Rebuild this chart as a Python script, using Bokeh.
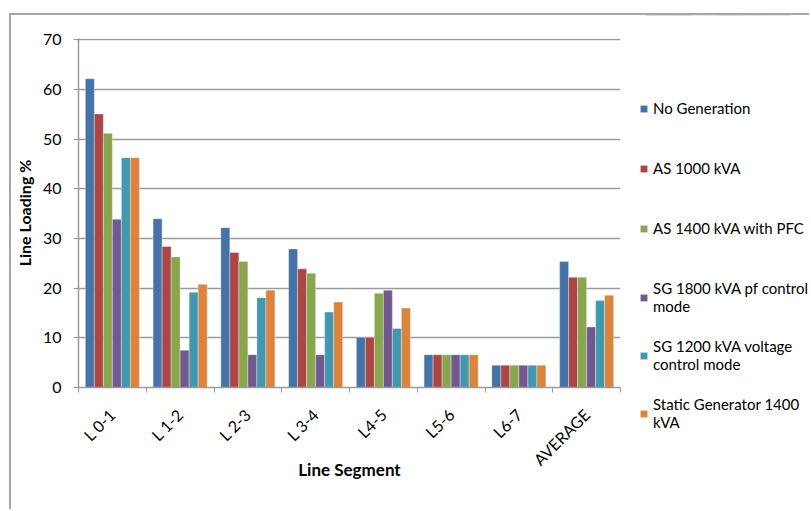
from math import pi
from bokeh.plotting import figure
from bokeh.layouts import row
from bokeh.models import Range1d, FixedTicker, Legend, LegendItem, ColumnDataSource
from bokeh.transform import dodge
from bokeh.embed import file_html
from bokeh.resources import INLINE

segments = ["L 0-1", "L 1-2", "L 2-3", "L 3-4", "L4-5", "L5-6", "L6-7", "AVERAGE"]
series_names = [
    "No Generation",
    "AS 1000 kVA",
    "AS 1400 kVA with PFC",
    "SG 1800 kVA pf control\nmode",
    "SG 1200 kVA voltage\ncontrol mode",
    "Static Generator 1400\nkVA",
]
no_generation = [62.2, 34.0, 32.2, 27.9, 10.1, 6.6, 4.5, 25.4]
as_1000 = [55.1, 28.4, 27.2, 23.9, 10.1, 6.6, 4.5, 22.2]
as_1400_pfc = [51.2, 26.3, 25.4, 23.0, 19.0, 6.6, 4.5, 22.2]
sg_1800_pf = [33.9, 7.5, 6.6, 6.6, 19.6, 6.6, 4.5, 12.2]
sg_1200_voltage = [46.3, 19.2, 18.1, 15.2, 11.9, 6.6, 4.5, 17.5]
static_gen_1400 = [46.3, 20.8, 19.6, 17.2, 16.0, 6.6, 4.5, 18.6]
y_ticks = [0, 10, 20, 30, 40, 50, 60, 70]

colors = ["#4572A7", "#AA4643", "#89A54E", "#71588F", "#4198AF", "#DB843D"]
keys = ["s0", "s1", "s2", "s3", "s4", "s5"]
all_series = [no_generation, as_1000, as_1400_pfc, sg_1800_pf, sg_1200_voltage, static_gen_1400]

centers = [i + 0.5 for i in range(len(segments))]
data = {"x": centers}
for k, s in zip(keys, all_series):
    data[k] = s
source = ColumnDataSource(data)

font = "Lato"
grey = "#9a9a9a"
bw = 0.133

# main chart (canvas origin at page (11, 15) because of the border styles)
H = 494
W1 = 615
FL, FR, FT, FB = 66, 609, 23, 372
p = figure(width=W1, height=H, output_backend="svg", toolbar_location=None,
           x_range=Range1d(0, len(segments)), y_range=Range1d(0, 70.3),
           min_border_left=FL, min_border_right=W1 - FR,
           min_border_top=FT, min_border_bottom=H - FB)

for j, (k, c) in enumerate(zip(keys, colors)):
    off = (j - 2.5) * bw
    p.vbar(x=dodge("x", off, range=p.x_range), top=k, width=bw, source=source,
           fill_color=c, line_color="white", line_alpha=0.35, line_width=1)

p.outline_line_color = None
p.xgrid.visible = False
p.ygrid.grid_line_color = grey
p.ygrid.grid_line_width = 1.5

xa = p.xaxis[0]
xa.ticker = FixedTicker(ticks=centers, minor_ticks=list(range(len(segments) + 1)))
xa.major_label_overrides = {c: s for c, s in zip(centers, segments)}
xa.major_label_orientation = pi / 4
xa.major_tick_out = 0
xa.major_tick_in = 0
xa.minor_tick_out = 5
xa.minor_tick_in = 0
xa.minor_tick_line_color = grey
xa.axis_line_color = grey
xa.axis_line_width = 1.5
xa.major_label_standoff = 19
xa.major_label_text_font = font
xa.major_label_text_font_size = "16px"
xa.major_label_text_color = "black"
xa.axis_label = "Line Segment"
xa.axis_label_text_font = font
xa.axis_label_text_font_style = "bold"
xa.axis_label_text_font_size = "17px"
xa.axis_label_text_color = "black"
xa.axis_label_standoff = -20

ya = p.yaxis[0]
ya.ticker = FixedTicker(ticks=y_ticks, minor_ticks=[])
ya.major_tick_out = 5
ya.major_tick_in = 0
ya.major_tick_line_color = grey
ya.axis_line_color = grey
ya.axis_line_width = 1.5
ya.major_label_standoff = 12
ya.major_label_text_font = font
ya.major_label_text_font_size = "16px"
ya.major_label_text_color = "black"
ya.axis_label = "Line Loading %"
ya.axis_label_text_font = font
ya.axis_label_text_font_style = "bold"
ya.axis_label_text_font_size = "16px"
ya.axis_label_text_color = "black"
ya.axis_label_standoff = 6

# legend panel (its own frame, not aligned with the chart frame)
W2 = 183
q = figure(width=W2, height=H, output_backend="svg", toolbar_location=None,
           x_axis_type=None, y_axis_type=None,
           x_range=Range1d(0, 1), y_range=Range1d(-2, -1),
           min_border_left=0, min_border_right=0, min_border_top=0, min_border_bottom=0)
q.frame_align = False
q.outline_line_color = None
items = []
for j, (k, c, name) in enumerate(zip(keys, colors, series_names)):
    r = q.vbar(x=dodge("x", (j - 2.5) * bw), top=k, width=bw, source=source,
               fill_color=c, line_color="white", line_alpha=0.35, line_width=1)
    items.append(LegendItem(label=name, renderers=[r]))

common = dict(orientation="vertical", glyph_width=9, glyph_height=9, label_standoff=5,
              padding=0, margin=0, label_text_font=font, label_text_font_size="15px",
              label_text_color="black", label_text_line_height=1.3,
              border_line_alpha=0, background_fill_alpha=0)
legend_a = Legend(items=items[:3], location=(13, 271), label_height=20, spacing=40, **common)
legend_b = Legend(items=items[3:], location=(13, 76), label_height=40, spacing=18, **common)
q.add_layout(legend_a, "center")
q.add_layout(legend_b, "center")

layout = row(p, q, spacing=0,
             styles={"margin-left": "9px", "margin-top": "13px",
                     "border-left": "2px solid #a6a6a6", "border-top": "2px solid #a6a6a6"})

open("out.html", "w").write(file_html(layout, INLINE))
